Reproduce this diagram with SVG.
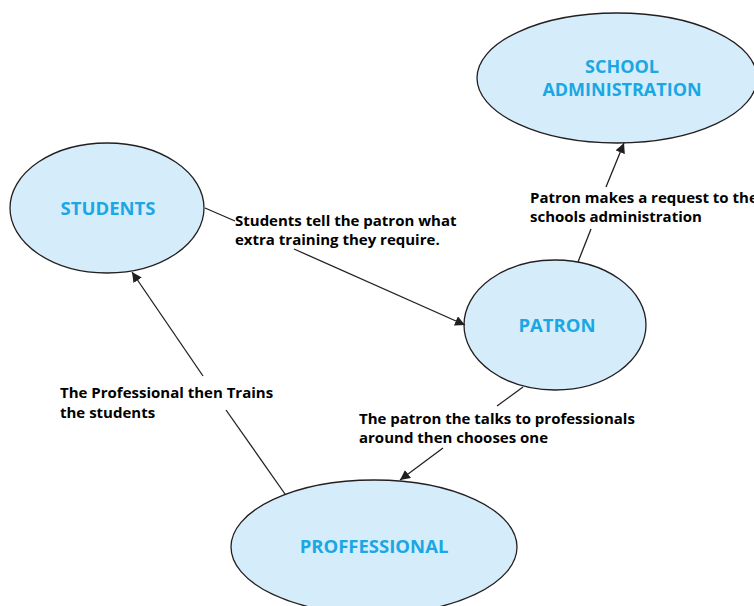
<svg xmlns="http://www.w3.org/2000/svg" width="754" height="606" viewBox="0 0 754 606">
<style>
.node ellipse{fill:#d5edfa;stroke:#231f20;stroke-width:1.3}
.nl{font-family:"Open Sans","Noto Sans",sans-serif;font-weight:bold;font-size:18.5px;fill:#1aa7e4;text-anchor:middle}
.el{font-family:"Open Sans","Noto Sans",sans-serif;font-weight:bold;font-size:15px;fill:#000}
.conn line{stroke:#231f20;stroke-width:1.3;fill:none}
</style>
<defs>
<marker id="ah" viewBox="0 0 10 10" refX="10" refY="5" markerWidth="10" markerHeight="10" markerUnits="userSpaceOnUse" orient="auto">
<path d="M0,0 L10,5 L0,10 z" fill="#231f20"/>
</marker>
</defs>
<rect width="754" height="606" fill="#fff"/>
<g id="school-administration" class="node">
<ellipse cx="617" cy="78" rx="140" ry="65"/>
<text class="nl" x="622" y="73" style="font-size:18px">SCHOOL</text>
<text class="nl" x="622" y="96" style="font-size:18px">ADMINISTRATION</text>
</g>
<g id="students" class="node">
<ellipse cx="107" cy="208" rx="97" ry="65"/>
<text class="nl" x="108" y="215">STUDENTS</text>
</g>
<g id="patron" class="node">
<ellipse cx="555" cy="325" rx="91" ry="65"/>
<text class="nl" x="557" y="332">PATRON</text>
</g>
<g id="proffessional" class="node">
<ellipse cx="374" cy="547" rx="143" ry="67"/>
<text class="nl" x="374" y="553">PROFFESSIONAL</text>
</g>
<g id="connectors" class="conn">
<line x1="205" y1="208" x2="235" y2="221"/>
<line x1="294" y1="249" x2="465" y2="325" marker-end="url(#ah)"/>
<line x1="578" y1="262" x2="591" y2="229"/>
<line x1="606" y1="187" x2="624" y2="143" marker-end="url(#ah)"/>
<line x1="523" y1="387" x2="497" y2="406"/>
<line x1="443" y1="448" x2="400" y2="480" marker-end="url(#ah)"/>
<line x1="285" y1="494" x2="226" y2="410"/>
<line x1="203" y1="376" x2="132" y2="272" marker-end="url(#ah)"/>
</g>
<g id="labels">
<text class="el" x="530" y="203">Patron makes a request to the</text>
<text class="el" x="530" y="222">schools administration</text>
<text class="el" x="235" y="226">Students tell the patron what</text>
<text class="el" x="235" y="245">extra training they require.</text>
<text class="el" x="359" y="424">The patron the talks to professionals</text>
<text class="el" x="359" y="443">around then chooses one</text>
<text class="el" x="60" y="398">The Professional then Trains</text>
<text class="el" x="60" y="418">the students</text>
</g>
</svg>
